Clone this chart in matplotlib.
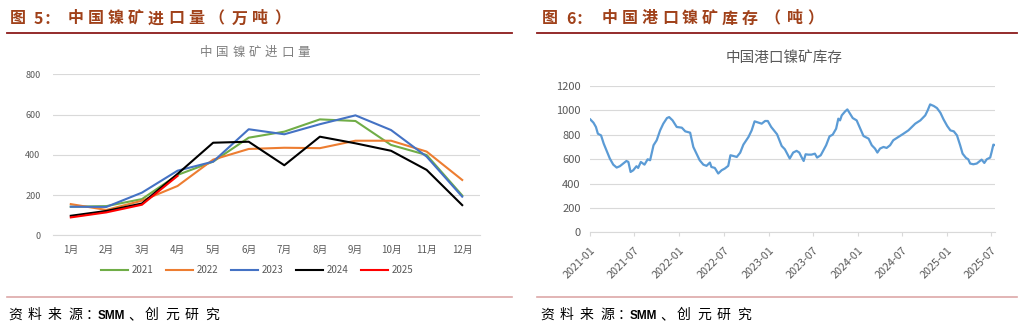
import pandas as pd
import matplotlib
matplotlib.use("Agg")
import matplotlib.pyplot as plt
import matplotlib.dates as mdates
from matplotlib.lines import Line2D

plt.rcParams['font.family'] = ['Noto Sans CJK SC', 'DejaVu Sans']

W, H = 1023, 330

# ---- left chart: monthly nickel ore imports (10k t)
months = ['1月', '2月', '3月', '4月', '5月', '6月', '7月', '8月', '9月', '10月', '11月', '12月']
imp_2021 = [142, 145, 180, 300, 366, 485, 515, 576, 568, 449, 399, 198]
imp_2022 = [155, 126, 172, 245, 376, 429, 435, 433, 470, 470, 416, 275]
imp_2023 = [142, 141, 212, 321, 366, 527, 502, 552, 596, 523, 391, 192]
imp_2024 = [97, 121, 158, 305, 460, 465, 348, 490, 457, 420, 325, 150]
imp_2025 = [89, 114, 152, 295]
years = ['2021', '2022', '2023', '2024', '2025']
year_colors = ['#70AD47', '#ED7D31', '#4472C4', '#000000', '#FF0000']

# ---- right chart: port nickel ore inventory
inv_dates = [
    '2021-01-01', '2021-01-14', '2021-01-24', '2021-02-01', '2021-02-14', '2021-02-25', '2021-03-08',
    '2021-03-22', '2021-04-05', '2021-04-19', '2021-05-02', '2021-05-16', '2021-05-29', '2021-06-06',
    '2021-06-15', '2021-06-26', '2021-07-09', '2021-07-16', '2021-07-27', '2021-08-11', '2021-08-24',
    '2021-09-03', '2021-09-17', '2021-09-30', '2021-10-14', '2021-10-27', '2021-11-11', '2021-11-20',
    '2021-12-04', '2021-12-21', '2022-01-11', '2022-01-25', '2022-02-14', '2022-02-27', '2022-03-12',
    '2022-03-25', '2022-04-09', '2022-04-22', '2022-05-06', '2022-05-12', '2022-05-26', '2022-06-09',
    '2022-06-23', '2022-07-06', '2022-07-20', '2022-07-29', '2022-08-10', '2022-08-24', '2022-09-07',
    '2022-09-20', '2022-10-11', '2022-10-24', '2022-11-05', '2022-11-21', '2022-12-04', '2022-12-18',
    '2022-12-29', '2023-01-12', '2023-02-05', '2023-02-24', '2023-03-09', '2023-03-29', '2023-04-12',
    '2023-04-26', '2023-05-07', '2023-05-16', '2023-05-25', '2023-06-02', '2023-06-13', '2023-06-26',
    '2023-07-10', '2023-07-19', '2023-08-03', '2023-08-14', '2023-08-25', '2023-09-08', '2023-09-21',
    '2023-10-05', '2023-10-14', '2023-10-21', '2023-10-28', '2023-11-11', '2023-11-20', '2023-12-01',
    '2023-12-12', '2023-12-28', '2024-01-12', '2024-01-25', '2024-02-15', '2024-02-28', '2024-03-12',
    '2024-03-22', '2024-04-02', '2024-04-16', '2024-04-29', '2024-05-13', '2024-05-26', '2024-06-16',
    '2024-07-07', '2024-07-27', '2024-08-10', '2024-08-24', '2024-09-14', '2024-10-04', '2024-10-14',
    '2024-10-24', '2024-11-08', '2024-11-21', '2024-12-05', '2024-12-18', '2025-01-02', '2025-01-15',
    '2025-01-29', '2025-02-11', '2025-02-24', '2025-03-06', '2025-03-20', '2025-03-29', '2025-04-06',
    '2025-04-19', '2025-05-03', '2025-05-16', '2025-05-23', '2025-06-03', '2025-06-13', '2025-06-27',
    '2025-07-03', '2025-07-10', '2025-07-18',
]
inv_values = [
    926, 899, 864, 809, 795, 727, 673,
    605, 555, 531, 542, 564, 585, 577,
    495, 509, 542, 528, 577, 555, 599,
    591, 714, 755, 836, 891, 937, 945,
    918, 864, 858, 828, 817, 700, 645,
    591, 555, 545, 572, 536, 528, 482,
    509, 523, 545, 632, 626, 618, 653,
    719, 782, 836, 910, 899, 891, 913,
    913, 864, 804, 708, 681, 605, 654,
    668, 654, 618, 585, 640, 637, 637,
    645, 613, 632, 673, 714, 787, 801,
    850, 932, 918, 959, 992, 1008, 973,
    937, 918, 850, 790, 768, 714, 687,
    654, 687, 700, 692, 714, 755, 782,
    809, 836, 864, 891, 918, 959, 1000,
    1049, 1036, 1019, 981, 926, 872, 836,
    828, 795, 714, 645, 610, 599, 564,
    558, 564, 585, 596, 569, 599, 613,
    659, 719, 714,
]
inv_ticks = ['2021-01', '2021-07', '2022-01', '2022-07', '2023-01', '2023-07',
             '2024-01', '2024-07', '2025-01', '2025-07']

HEAD = '#A0411A'
GRID = '#D9D9D9'
TXT = '#595959'


def spaced(fig, items, y, **kw):
    # place characters one by one to mimic letter spacing
    for x, ch in items:
        fig.text(x / W, 1 - y / H, ch, ha='left', va='baseline', **kw)


def frame_lines(fig, x0, x1):
    fig.add_artist(Line2D([x0 / W, x1 / W], [1 - 32.5 / H] * 2, color='#8B1A1A', lw=1.3))
    fig.add_artist(Line2D([x0 / W, x1 / W], [1 - 296.5 / H] * 2, color='#DDA8A8', lw=1.2))


def source(fig, x0):
    spaced(fig, [(x0, '资'), (x0 + 20, '料'), (x0 + 40, '来'), (x0 + 60, '源'), (x0 + 78, '：')],
           319, fontsize=10, color='black')
    fig.text((x0 + 90) / W, 1 - 319 / H, 'SMM', ha='left', va='baseline', fontsize=8.5,
             family=['Liberation Sans', 'DejaVu Sans'], fontweight='bold', color='black')
    spaced(fig, [(x0 + 120, '、'), (x0 + 137, '创'), (x0 + 157, '元'), (x0 + 177, '研'), (x0 + 197, '究')],
           319, fontsize=10, color='black')


fig = plt.figure(figsize=(W / 100, H / 100), dpi=100)

# ---------------- left panel
frame_lines(fig, 7, 512)
head_l = [(10, '图'), (34, '5'), (44, '：'), (68, '中'), (88, '国'), (108, '镍'), (128, '矿'),
          (148, '进'), (168, '口'), (188, '量'), (208, '（'), (232, '万'), (252, '吨'), (274, '）')]
spaced(fig, head_l, 23.5, fontsize=11.5, fontweight='bold', color=HEAD)
title_l = [(200 + 16.2 * i, ch) for i, ch in enumerate('中国镍矿进口量')]
spaced(fig, title_l, 56, fontsize=9, color='#7F7F7F')
source(fig, 8)

ax1 = fig.add_axes([53 / W, 1 - 235.3 / H, (480 - 53) / W, (235.3 - 74.3) / H])
series = [imp_2021, imp_2022, imp_2023, imp_2024, imp_2025]
for yr, vals, c in zip(years, series, year_colors):
    ax1.plot(range(len(vals)), vals, color=c, lw=1.5, label=yr)
ax1.set_xlim(-0.5, 11.5)
ax1.set_ylim(0, 800)
ax1.set_yticks(range(0, 801, 200))
ax1.set_xticks(range(12))
ax1.set_xticklabels(months)
ax1.grid(axis='y', color=GRID, lw=0.8)
ax1.set_axisbelow(True)
for s in ['top', 'right', 'left']:
    ax1.spines[s].set_visible(False)
ax1.spines['bottom'].set_color(GRID)
ax1.tick_params(length=0, labelsize=7, colors=TXT)
ax1.tick_params(axis='x', pad=7)
ax1.tick_params(axis='y', pad=9, labelsize=6.5)
ax1.legend(loc='center', bbox_to_anchor=(257 / W, 1 - 270 / H), bbox_transform=fig.transFigure,
           ncol=5, frameon=False, fontsize=7, handlelength=2.8, handletextpad=0.3,
           columnspacing=1.35, labelcolor=TXT)

# ---------------- right panel
frame_lines(fig, 537, 1017)
head_r = [(542, '图'), (566, '6'), (576, '：'), (602, '中'), (622, '国'), (642, '港'), (662, '口'),
          (682, '镍'), (702, '矿'), (722, '库'), (742, '存'), (764, '（'), (787, '吨'), (807, '）')]
spaced(fig, head_r, 23.5, fontsize=11.5, fontweight='bold', color=HEAD)
fig.text(784 / W, 1 - 57.5 / H, '中国港口镍矿库存', ha='center', va='center', fontsize=10.5, color=TXT)
source(fig, 540)

ax2 = fig.add_axes([590.3 / W, 1 - 232.3 / H, (995.3 - 590.3) / W, (232.3 - 86) / H])
ax2.plot(pd.to_datetime(inv_dates), inv_values, color='#5B9BD5', lw=1.6)
ax2.set_xlim(pd.Timestamp('2021-01-01'), pd.Timestamp('2025-07-18'))
ax2.set_ylim(0, 1200)
ax2.set_yticks(range(0, 1201, 200))
ax2.set_xticks(pd.to_datetime(inv_ticks))
ax2.xaxis.set_major_formatter(mdates.DateFormatter('%Y-%m'))
ax2.grid(axis='y', color=GRID, lw=0.8)
ax2.set_axisbelow(True)
for s in ['top', 'right', 'left']:
    ax2.spines[s].set_visible(False)
ax2.spines['bottom'].set_color(GRID)
ax2.tick_params(axis='y', length=0, labelsize=8, colors=TXT, pad=7)
ax2.tick_params(axis='x', length=3, color=GRID, labelsize=7.8, colors=TXT, pad=6)
for lab in ax2.get_xticklabels():
    lab.set_rotation(45)
    lab.set_ha('right')
    lab.set_rotation_mode('anchor')

fig.savefig('out.png', dpi=100)
